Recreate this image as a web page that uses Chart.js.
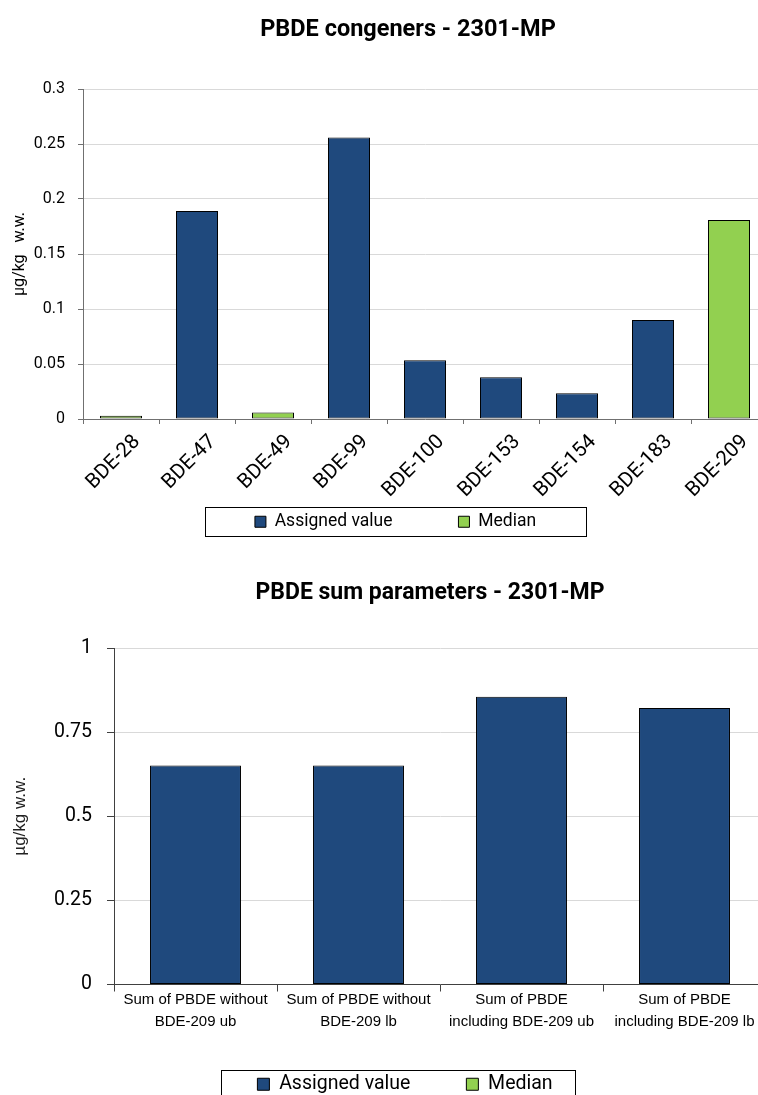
<!DOCTYPE html>
<html lang="en">
<head>
<meta charset="utf-8">
<title>PBDE - 2301-MP</title>
<script src="https://cdn.jsdelivr.net/npm/chart.js@4.4.1/dist/chart.umd.min.js"></script>
<style>
  html, body { margin: 0; padding: 0; background: #fff; overflow: hidden; }
  .panel { position: absolute; left: 0; }
  #congenersPanel { top: 0; }
  #sumsPanel { top: 560px; }
</style>
</head>
<body>
<div class="panel" id="congenersPanel"><canvas id="congenersChart" width="767" height="560"></canvas></div>
<div class="panel" id="sumsPanel"><canvas id="sumsChart" width="766" height="545"></canvas></div>
<script>
// ---------------- Data ----------------
const congeners = ["BDE-28", "BDE-47", "BDE-49", "BDE-99", "BDE-100", "BDE-153", "BDE-154", "BDE-183", "BDE-209"];
const congenerValues = [0.003, 0.189, 0.006, 0.256, 0.0535, 0.038, 0.0235, 0.09, 0.181];
// statistic each congener value is based on
const congenerBasis = ["median", "assigned", "median", "assigned", "assigned", "assigned", "assigned", "assigned", "median"];
const congenerTicks = [0, 0.05, 0.1, 0.15, 0.2, 0.25, 0.3];

const sumParams = [
  ["Sum of PBDE without", "BDE-209 ub"],
  ["Sum of PBDE without", "BDE-209 lb"],
  ["Sum of PBDE", "including BDE-209 ub"],
  ["Sum of PBDE", "including BDE-209 lb"]
];
const sumValues = [0.651, 0.651, 0.855, 0.822];
const sumBasis = ["assigned", "assigned", "assigned", "assigned"];
const sumTicks = [0, 0.25, 0.5, 0.75, 1];

const BLUE = "#1f497d";
const GREEN = "#92d050";
const DIN = "Roboto, 'Noto Sans', sans-serif";
const ARIAL = "'Liberation Sans', Arial, sans-serif";

// keep only the values belonging to one statistic, the rest stay empty
function pick(values, basis, which) {
  return values.map((v, i) => (basis[i] === which ? v : null));
}

function barSets(values, basis) {
  return [
    { label: "Assigned value", data: pick(values, basis, "assigned"), backgroundColor: BLUE },
    { label: "Median", data: pick(values, basis, "median"), backgroundColor: GREEN }
  ];
}

// ---------------- Heading + legend frame ----------------
const decor = {
  id: "decor",
  afterDraw(chart, args, opts) {
    const { ctx, legend } = chart;
    ctx.save();
    ctx.font = opts.titleFont;
    ctx.fillStyle = "#000";
    ctx.textAlign = "center";
    ctx.textBaseline = "middle";
    ctx.fillText(opts.title, opts.titleX, opts.titleY);

    // frame around the legend row, centred on its items
    const hb = legend.legendHitBoxes[0];
    const mid = hb.top + hb.height / 2;
    const cx = (legend.left + legend.right) / 2 + opts.frameShift;
    ctx.strokeStyle = "#000";
    ctx.lineWidth = 1;
    ctx.strokeRect(Math.round(cx - opts.frameWidth / 2) + 0.5, Math.round(mid - opts.frameAbove) + 0.5,
      opts.frameWidth, opts.frameHeight);
    ctx.restore();
  }
};

function makeChart(id, cfg) {
  return new Chart(document.getElementById(id), {
    type: "bar",
    data: { labels: cfg.labels, datasets: barSets(cfg.values, cfg.basis) },
    plugins: [decor],
    options: {
      responsive: false,
      animation: false,
      devicePixelRatio: 1,
      layout: { padding: cfg.padding },
      datasets: {
        bar: {
          grouped: false,
          categoryPercentage: 1,
          barPercentage: cfg.barPct,
          borderColor: "#000",
          borderWidth: 1,
          borderSkipped: false
        }
      },
      plugins: {
        title: { display: false },
        tooltip: { enabled: false },
        legend: {
          position: "bottom",
          labels: {
            color: "#000",
            font: { family: DIN, size: cfg.legendSize },
            boxWidth: cfg.legendBox,
            boxHeight: cfg.legendBox,
            padding: cfg.legendPad
          }
        },
        decor: cfg.decor
      },
      scales: {
        x: {
          grid: { offset: true, drawOnChartArea: false, tickLength: cfg.tickLen, tickColor: cfg.axisColor },
          border: { color: cfg.axisColor },
          ticks: cfg.xTicks,
          afterFit: s => {
            s.height = cfg.xHeight;
            // labels run on below the (short) scale box, so don't clip them to it
            s._computeLabelArea = () => undefined;
          }
        },
        y: {
          min: 0,
          max: cfg.ticks[cfg.ticks.length - 1],
          grid: { color: "#d9d9d9", tickLength: cfg.tickLen, tickColor: cfg.axisColor },
          border: { color: cfg.axisColor },
          ticks: {
            color: "#000",
            font: { family: DIN, size: cfg.yTickSize },
            padding: cfg.yTickPad,
            callback: v => String(v)
          },
          title: cfg.yTitle,
          afterBuildTicks: s => { s.ticks = cfg.ticks.map(v => ({ value: v })); },
          afterFit: s => { s.width = cfg.yWidth; }
        }
      }
    }
  });
}

// ---------------- PBDE congeners ----------------
makeChart("congenersChart", {
  labels: congeners,
  values: congenerValues,
  basis: congenerBasis,
  ticks: congenerTicks,
  padding: { top: 89, left: 24, right: 0, bottom: 19.5 },
  barPct: 0.553,
  axisColor: "#707070",
  tickLen: 5,
  xHeight: 28,
  yWidth: 59,
  yTickSize: 16,
  yTickPad: 13,
  xTicks: {
    color: "#000",
    font: { family: DIN, size: 20.5 },
    minRotation: 45,
    maxRotation: 45,
    autoSkip: false,
    labelOffset: 16,
    padding: 6
  },
  yTitle: {
    display: true,
    text: "µg/kg   w.w.",
    color: "#000",
    font: { family: DIN, size: 16 },
    padding: { top: -14, bottom: 0 }
  },
  legendSize: 17.5,
  legendBox: 11,
  legendPad: 66,
  decor: {
    title: "PBDE congeners - 2301-MP",
    titleFont: "bold 23.5px " + DIN,
    titleX: 408,
    titleY: 30,
    frameShift: 0,
    frameWidth: 381,
    frameAbove: 15,
    frameHeight: 29
  }
});

// ---------------- PBDE sum parameters ----------------
makeChart("sumsChart", {
  labels: sumParams,
  values: sumValues,
  basis: sumBasis,
  ticks: sumTicks,
  padding: { top: 88, left: 44, right: 0, bottom: 1 },
  barPct: 0.558,
  axisColor: "#404040",
  tickLen: 7,
  xHeight: 34,
  yWidth: 70,
  yTickSize: 19.5,
  yTickPad: 15,
  xTicks: {
    color: "#000",
    font: { family: ARIAL, size: 15, lineHeight: 1.5 },
    maxRotation: 0,
    minRotation: 0,
    autoSkip: false,
    padding: -3
  },
  yTitle: {
    display: true,
    text: "µg/kg w.w.",
    color: "#222",
    font: { family: ARIAL, size: 17 },
    padding: { top: -34, bottom: 0 }
  },
  legendSize: 19.5,
  legendBox: 12,
  legendPad: 56,
  decor: {
    title: "PBDE sum parameters - 2301-MP",
    titleFont: "bold 23px " + DIN,
    titleX: 430,
    titleY: 33,
    frameShift: -7,
    frameWidth: 354,
    frameAbove: 14,
    frameHeight: 30
  }
});
</script>
</body>
</html>
